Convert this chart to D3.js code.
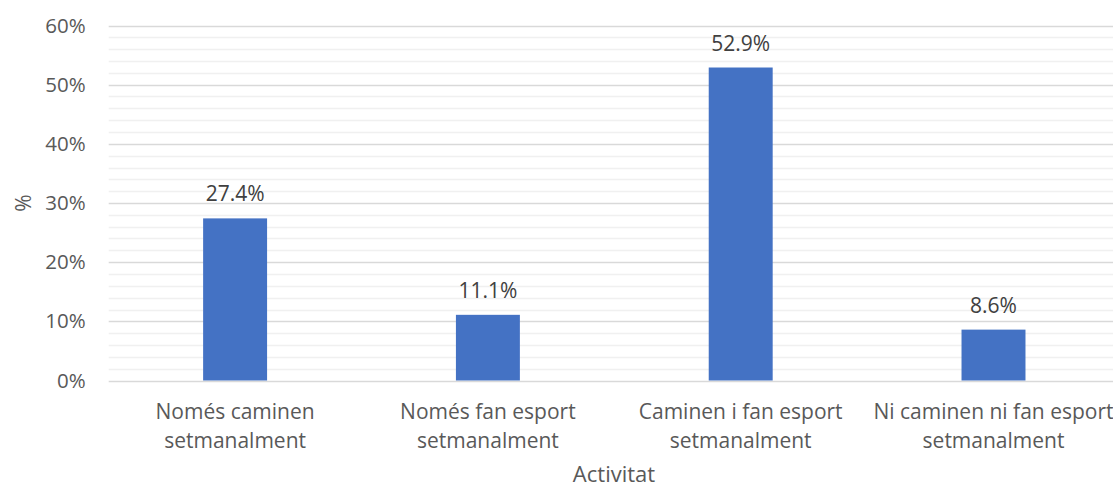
<!DOCTYPE html>
<html><head><meta charset="utf-8">
<script src="https://cdn.jsdelivr.net/npm/d3@7"></script>
<style>
html,body{margin:0;padding:0;background:#fff;overflow:hidden;}
text{font-family:"Open Sans","Liberation Sans",sans-serif;}
</style></head>
<body>
<svg id="chart" width="1113" height="488"></svg>
<script>
const categories = [
  ["Només caminen", "setmanalment"],
  ["Només fan esport", "setmanalment"],
  ["Caminen i fan esport", "setmanalment"],
  ["Ni caminen ni fan esport", "setmanalment"]
];
const values = [27.4, 11.1, 52.9, 8.6];
const majorTicks = [0, 10, 20, 30, 40, 50, 60];
const minorTicks = d3.range(0, 60.01, 2);
const yTitle = "%";
const xTitle = "Activitat";

(function () {
const svg = d3.select("#chart");
const left = 108.7, plotW = 1011.2, plotTop = 25.5, plotBottom = 380.5;
const x = d3.scaleBand().domain(d3.range(categories.length)).range([left, left + plotW]).paddingInner(0.747).paddingOuter(0.3735);
const y = d3.scaleLinear().domain([0, 60]).range([plotBottom, plotTop]);

// minor grid
svg.append("g").selectAll("line").data(minorTicks.filter(t => t % 10 !== 0)).join("line")
  .attr("x1", left).attr("x2", left + plotW)
  .attr("y1", d => Math.round(y(d)) + 0.5).attr("y2", d => Math.round(y(d)) + 0.5)
  .attr("stroke", "#f0f0f0").attr("stroke-width", 1.3);
// major grid
svg.append("g").selectAll("line").data(majorTicks).join("line")
  .attr("x1", left).attr("x2", left + plotW)
  .attr("y1", d => Math.round(y(d)) + 0.5).attr("y2", d => Math.round(y(d)) + 0.5)
  .attr("stroke", "#d9d9d9").attr("stroke-width", 1.3);

// y axis labels
const yAxis = d3.axisLeft(y).tickValues(majorTicks).tickFormat(d => d + "%").tickSize(0).tickPadding(23);
const ga = svg.append("g").attr("transform", `translate(${left},0)`).call(yAxis);
ga.select(".domain").remove();
ga.selectAll("text").attr("font-size", 20.5).attr("fill", "#595959").attr("font-family", "'Open Sans', sans-serif");

// bars
svg.append("g").selectAll("rect").data(values).join("rect")
  .attr("x", (d, i) => x(i)).attr("width", x.bandwidth())
  .attr("y", d => y(d)).attr("height", d => y(0) - y(d))
  .attr("fill", "#4472C4");

// data labels
svg.append("g").selectAll("text").data(values).join("text")
  .attr("x", (d, i) => x(i) + x.bandwidth() / 2)
  .attr("y", d => y(d) - 17)
  .attr("text-anchor", "middle").attr("font-size", 21).attr("fill", "#404040")
  .text(d => d.toFixed(1) + "%");

// category labels
const cg = svg.append("g").selectAll("text").data(categories).join("text")
  .attr("x", (d, i) => x(i) + x.bandwidth() / 2)
  .attr("text-anchor", "middle").attr("font-size", 21).attr("fill", "#595959");
cg.append("tspan").attr("x", (d, i) => x(i) + x.bandwidth() / 2).attr("y", 419).text(d => d[0]);
cg.append("tspan").attr("x", (d, i) => x(i) + x.bandwidth() / 2).attr("y", 448).text(d => d[1]);

// axis titles
svg.append("text").attr("x", 614).attr("y", 481.5).attr("text-anchor", "middle")
  .attr("font-size", 22).attr("fill", "#595959").text(xTitle);
svg.append("text").attr("transform", "translate(31,203) rotate(-90)").attr("text-anchor", "middle")
  .attr("font-size", 21).attr("fill", "#595959").text(yTitle);
})();
</script>
</body></html>
